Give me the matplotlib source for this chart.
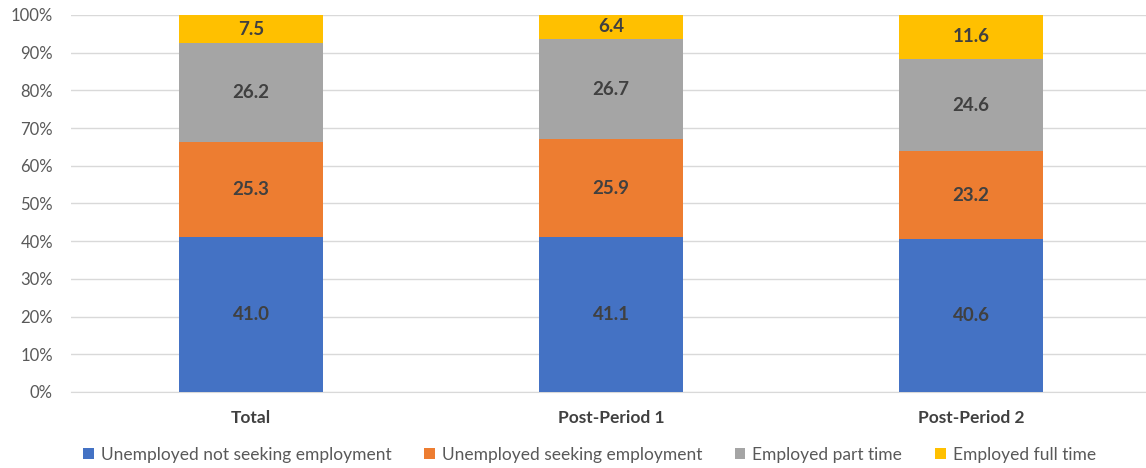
import matplotlib
matplotlib.use("Agg")
import matplotlib.pyplot as plt
import numpy as np
from matplotlib.ticker import FuncFormatter

plt.rcParams['font.family'] = ['Lato', 'DejaVu Sans']

categories = ["Total", "Post-Period 1", "Post-Period 2"]
series_names = ["Unemployed not seeking employment", "Unemployed seeking employment",
                "Employed part time", "Employed full time"]
unemp_not_seeking = [41.0, 41.1, 40.6]
unemp_seeking = [25.3, 25.9, 23.2]
emp_part = [26.2, 26.7, 24.6]
emp_full = [7.5, 6.4, 11.6]
colors = ["#4472C4", "#ED7D31", "#A5A5A5", "#FFC000"]

fig = plt.figure(figsize=(11.46, 4.68), dpi=100)
ax = fig.add_axes([0.062, 0.1624, 0.9424, 0.8056])

x = np.arange(len(categories))
bottom = np.zeros(len(categories))
for name, vals, col in zip(series_names, [unemp_not_seeking, unemp_seeking, emp_part, emp_full], colors):
    vals = np.array(vals)
    ax.bar(x, vals, 0.4, bottom=bottom, color=col, label=name, zorder=3)
    for xi, b, v in zip(x, bottom, vals):
        ax.text(xi, b + v / 2, f"{v:.1f}", ha="center", va="center",
                fontsize=13.5, fontweight="bold", color="#404040", zorder=4)
    bottom += vals

ax.set_xlim(-0.5, 2.5)
ax.set_ylim(0, 100)
ax.set_yticks(np.arange(0, 101, 10))
ax.yaxis.set_major_formatter(FuncFormatter(lambda v, p: f"{int(v)}%"))
ax.grid(axis="y", color="#D9D9D9", linewidth=1, zorder=0)
for s in ["top", "right", "left"]:
    ax.spines[s].set_visible(False)
ax.spines["bottom"].set_color("#D9D9D9")
ax.tick_params(axis="both", length=0)
ax.tick_params(axis="y", labelsize=12, labelcolor="#595959", pad=13)
ax.set_xticks(x)
ax.set_xticklabels(categories, fontsize=12.5, fontweight="bold", color="#404040")
ax.tick_params(axis="x", pad=13)

ax.legend(loc="center", bbox_to_anchor=(0.48, -0.167), ncol=4, frameon=False,
          fontsize=12.5, handlelength=0.6, handleheight=0.6, handletextpad=0.4,
          columnspacing=1.9, labelcolor="#595959")

fig.savefig("out.png", dpi=100)
